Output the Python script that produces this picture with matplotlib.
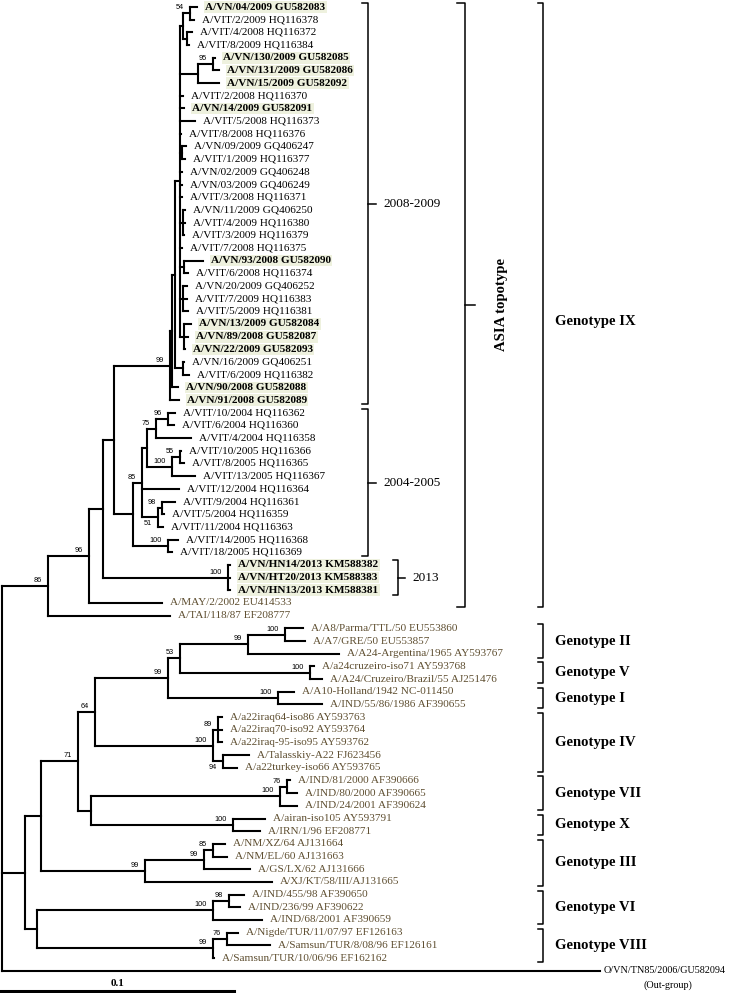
import re
import matplotlib
matplotlib.use('Agg')
import matplotlib.pyplot as plt

plt.rcParams['font.family'] = ['Liberation Serif', 'DejaVu Serif']

# ── Data ──────────────────────────────────────────────────────────────────────

# leaf names, top to bottom; the numbers in the newick strings index this list (1-based)
leaf_names = [
    "A/VN/04/2009 GU582083", "A/VIT/2/2009 HQ116378", "A/VIT/4/2008 HQ116372",
    "A/VIT/8/2009 HQ116384", "A/VN/130/2009 GU582085", "A/VN/131/2009 GU582086",
    "A/VN/15/2009 GU582092", "A/VIT/2/2008 HQ116370", "A/VN/14/2009 GU582091",
    "A/VIT/5/2008 HQ116373", "A/VIT/8/2008 HQ116376", "A/VN/09/2009 GQ406247",
    "A/VIT/1/2009 HQ116377", "A/VN/02/2009 GQ406248", "A/VN/03/2009 GQ406249",
    "A/VIT/3/2008 HQ116371", "A/VN/11/2009 GQ406250", "A/VIT/4/2009 HQ116380",
    "A/VIT/3/2009 HQ116379", "A/VIT/7/2008 HQ116375", "A/VN/93/2008 GU582090",
    "A/VIT/6/2008 HQ116374", "A/VN/20/2009 GQ406252", "A/VIT/7/2009 HQ116383",
    "A/VIT/5/2009 HQ116381", "A/VN/13/2009 GU582084", "A/VN/89/2008 GU582087",
    "A/VN/22/2009 GU582093", "A/VN/16/2009 GQ406251", "A/VIT/6/2009 HQ116382",
    "A/VN/90/2008 GU582088", "A/VN/91/2008 GU582089",
    "A/VIT/10/2004 HQ116362", "A/VIT/6/2004 HQ116360", "A/VIT/4/2004 HQ116358",
    "A/VIT/10/2005 HQ116366", "A/VIT/8/2005 HQ116365", "A/VIT/13/2005 HQ116367",
    "A/VIT/12/2004 HQ116364", "A/VIT/9/2004 HQ116361", "A/VIT/5/2004 HQ116359",
    "A/VIT/11/2004 HQ116363", "A/VIT/14/2005 HQ116368", "A/VIT/18/2005 HQ116369",
    "A/VN/HN14/2013 KM588382", "A/VN/HT20/2013 KM588383", "A/VN/HN13/2013 KM588381",
    "A/MAY/2/2002 EU414533", "A/TAI/118/87 EF208777",
    "A/A8/Parma/TTL/50 EU553860", "A/A7/GRE/50 EU553857",
    "A/A24-Argentina/1965 AY593767", "A/a24cruzeiro-iso71 AY593768",
    "A/A24/Cruzeiro/Brazil/55 AJ251476", "A/A10-Holland/1942 NC-011450",
    "A/IND/55/86/1986 AF390655", "A/a22iraq64-iso86 AY593763",
    "A/a22iraq70-iso92 AY593764", "A/a22iraq-95-iso95 AY593762",
    "A/Talasskiy-A22 FJ623456", "A/a22turkey-iso66 AY593765",
    "A/IND/81/2000 AF390666", "A/IND/80/2000 AF390665", "A/IND/24/2001 AF390624",
    "A/airan-iso105 AY593791", "A/IRN/1/96 EF208771", "A/NM/XZ/64 AJ131664",
    "A/NM/EL/60 AJ131663", "A/GS/LX/62 AJ131666", "A/XJ/KT/58/III/AJ131665",
    "A/IND/455/98 AF390650", "A/IND/236/99 AF390622", "A/IND/68/2001 AF390659",
    "A/Nigde/TUR/11/07/97 EF126163", "A/Samsun/TUR/8/08/96 EF126161",
    "A/Samsun/TUR/10/06/96 EF162162", "O/VN/TN85/2006/GU582094",
]
bold_leaves = [1, 5, 6, 7, 9, 21, 26, 27, 28, 31, 32, 45, 46, 47]
brown_leaves = list(range(48, 77))
below_labels = ["51", "94"]      # bootstrap values printed under their branch

# branch lengths (subst./site), read against the 0.1 scale bar; internal labels = bootstrap
clade_0809 = """
((((((1:0.0030,2:0.0017)54:0.0030,(3:0.0021,4:0.0009):0.0017):0.0013,
((5:0.0009,6:0.0026)95:0.0064,7:0.0090):0.0077,
8:0.0013,9:0.0017,10:0.0064,11:0.0004,(12:0.0017,13:0.0013):0.0009,
14:0.0009,15:0.0009,16:0.0009,(17:0.0009,18:0.0009,19:0.0004):0.0013,
20:0.0009,(21:0.0081,22:0.0017):0.0017,(23:0.0017,24:0.0017,25:0.0021):0.0013,
(26:0.0030,27:0.0017,28:0.0004):0.0017):0.0021,
(29:0.0004,30:0.0026):0.0034):0.0013,31:0.0026):0.0009,32:0.0038)99:0.0239
"""
clade_0405 = """
(((((33:0.0030,34:0.0026)96:0.0051,35:0.0150)75:0.0038,
((36:0.0004,37:0.0017)55:0.0034,38:0.0098)100:0.0107):0.0021,
39:0.0158,((40:0.0056,41:0.0009)98:0.0017,42:0.0021)51:0.0068)85:0.0038,
(43:0.0043,44:0.0017)100:0.0150):0.0081
"""
clade_2013 = "(45:0.0009,46:0.0009,47:0.0009)100:0.0534"
asia = f"((({clade_0809},{clade_0405}):0.0047,{clade_2013}):0.0060,48:0.0312)96:0.0175"

geno_IIVI = """
(((((50:0.0077,51:0.0085)100:0.0158,52:0.0389)99:0.0291,
(53:0.0017,54:0.0051)100:0.0556)53:0.0051,
(55:0.0068,56:0.0188)100:0.0470)99:0.0312,
((57:0.0017,58:0.0017,59:0.0017)89:0.0021,(60:0.0111,61:0.0060)94:0.0043)100:0.0504)64:0.0073
"""
geno_VIIX = """
(((62:0.0013,63:0.0043)76:0.0030,64:0.0073)100:0.0808,
(65:0.0137,66:0.0115)100:0.0607):0.0056
"""
geno_III = "(((67:0.0051,68:0.0060)85:0.0038,69:0.0197)99:0.0252,70:0.0543)99:0.0444"
geno_VI_VIII = """
(((71:0.0064,72:0.0047)98:0.0068,73:0.0209)100:0.0752,
((74:0.0047,75:0.0184)76:0.0060,76:0.0004)99:0.0752):0.0051
"""
others = f"((({geno_IIVI},{geno_VIIX})71:0.0158,{geno_III}):0.0068,{geno_VI_VIII}):0.0098"

newick = f"(({asia},49:0.0521)86:0.0197,{others},77:0.2556);"

period_groups = [("2008-2009", 1, 32), ("2004-2005", 33, 44), ("2013", 45, 47)]
genotype_groups = [
    ("Genotype IX", 1, 48), ("Genotype II", 50, 52), ("Genotype V", 53, 54),
    ("Genotype I", 55, 56), ("Genotype IV", 57, 61), ("Genotype VII", 62, 64),
    ("Genotype X", 65, 66), ("Genotype III", 67, 70), ("Genotype VI", 71, 73),
    ("Genotype VIII", 74, 76),
]
scale_len = 0.1


# ── Tree parsing / layout ────────────────────────────────────────────────────

def parse_newick(s):
    s = re.sub(r'\s+', '', s).rstrip(';')
    pos = 0

    def node():
        nonlocal pos
        n = {'children': [], 'label': '', 'bl': 0.0}
        if s[pos] == '(':
            pos += 1
            while True:
                n['children'].append(node())
                if s[pos] == ',':
                    pos += 1
                    continue
                pos += 1
                break
        lab = re.match(r'[^:,()]*', s[pos:]).group(0)
        n['label'] = lab
        pos += len(lab)
        if pos < len(s) and s[pos] == ':':
            m = re.match(r':([0-9.]+)', s[pos:])
            n['bl'] = float(m.group(1))
            pos += len(m.group(0))
        return n
    return node()


def layout(n, x0=0.0):
    n['x'] = x0 + n['bl']
    if n['children']:
        for c in n['children']:
            layout(c, n['x'])
        n['y'] = (n['children'][0]['y'] + n['children'][-1]['y']) / 2
    else:
        n['y'] = int(n['label']) - 1


tree = parse_newick(newick)
layout(tree)

# pixel geometry of the page (741 x 993)
PX = 2340.0      # pixels per substitution unit
X0 = 2.0         # root x in px
ROW0, ROW_H = 7.0, 12.68


def X(px):
    return (px - X0) / PX


def Yr(py):
    return (py - ROW0) / ROW_H


fig = plt.figure(figsize=(7.41, 9.93), dpi=100)
ax = fig.add_axes([0, 0, 1, 1])
ax.set_xlim(X(0), X(741))
ax.set_ylim(Yr(993), Yr(0))
ax.axis('off')

LW = 1.5
BROWN = '#5e4e30'


def draw(n, xp=None):
    if xp is not None:
        ax.plot([xp, n['x']], [n['y'], n['y']], color='black', lw=LW,
                solid_capstyle='projecting')
    if n['children']:
        ax.plot([n['x'], n['x']], [n['children'][0]['y'], n['children'][-1]['y']],
                color='black', lw=LW, solid_capstyle='projecting')
        for c in n['children']:
            draw(c, n['x'])
        if n['label'] and xp is not None:
            below = n['label'] in below_labels
            ax.text(n['x'] - 6 / PX, n['y'] + (3 if below else -2) / ROW_H, n['label'],
                    ha='right', va='top' if below else 'bottom',
                    fontsize=5.3, family='Liberation Sans')
        return
    k = int(n['label'])
    name = leaf_names[k - 1]
    if k == len(leaf_names):
        ax.text(n['x'] + 4 / PX, n['y'], name, fontsize=7.3, va='center', ha='left')
        return
    bold = k in bold_leaves
    kw = dict(fontsize=8.1, va='center', ha='left',
              color=BROWN if k in brown_leaves else 'black',
              fontweight='bold' if bold else 'normal')
    if bold:
        kw['bbox'] = dict(boxstyle='square,pad=0.12', fc='#eef1de', ec='none')
    ax.text(n['x'] + 8 / PX, n['y'], name, **kw)


draw(tree)

# ── Annotations ───────────────────────────────────────────────────────────────

def bracket(first, last, xpx, hook, tick=0, pad=4, lw=1.1):
    y0 = Yr(ROW0 + (first - 1) * ROW_H - pad)
    y1 = Yr(ROW0 + (last - 1) * ROW_H + pad)
    ax.plot([X(xpx - hook), X(xpx), X(xpx), X(xpx - hook)], [y0, y0, y1, y1],
            color='black', lw=lw)
    ym = (y0 + y1) / 2
    if tick:
        ax.plot([X(xpx), X(xpx + tick)], [ym, ym], color='black', lw=lw)
    return ym


for name, a, b in period_groups:
    if name == "2013":
        ym = bracket(a, b, 398, 5, 7, pad=5)
        ax.text(X(412), ym, name, fontsize=9.5, va='center')
    else:
        ym = bracket(a, b, 368, 6, 8)
        ax.text(X(383), ym, name, fontsize=9.5, va='center')

ym = bracket(1, 48, 465, 8, 10)
ax.text(X(501), ym, "ASIA topotype", rotation=90, fontsize=10.6,
        fontweight='bold', ha='center', va='center')

for name, a, b in genotype_groups:
    ym = bracket(a, b, 543, 5)
    if name == "Genotype IX":
        ym = ym + 17 / ROW_H
    ax.text(X(555), ym, name, fontsize=10.6, fontweight='bold', va='center')

ax.text(X(668), Yr(985), "(Out-group)", fontsize=7.3, ha='center', va='center')

# scale bar
ax.plot([X(0), X(0) + scale_len], [Yr(991), Yr(991)], color='black', lw=2.2)
ax.text(X(0) + scale_len / 2, Yr(983), "0.1", fontsize=8, fontweight='bold',
        ha='center', va='center')

fig.savefig('out.png', dpi=100)
